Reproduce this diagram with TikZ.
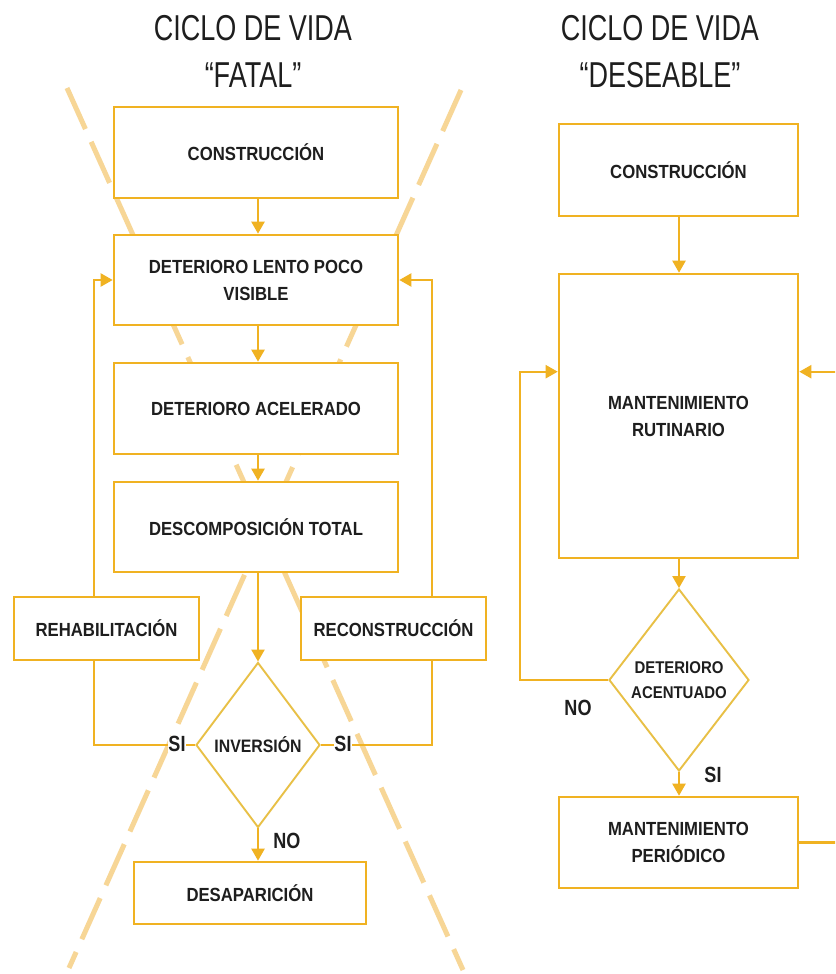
\documentclass[tikz,border=0pt]{standalone}
\usepackage{fontspec}
\setmainfont{Liberation Sans}
\newfontfamily\titlefont[FakeStretch=0.75]{Liberation Sans}
\newfontfamily\bxfont[FakeStretch=0.88]{Liberation Sans}
\newfontfamily\lblfont[FakeStretch=0.82]{Liberation Sans}
\usetikzlibrary{shapes.geometric,arrows.meta,calc}
\definecolor{boxcol}{RGB}{240,178,34}
\definecolor{dcol}{RGB}{232,192,70}
\definecolor{xcol}{RGB}{247,214,150}
\definecolor{txt}{RGB}{30,30,30}
\begin{document}
\begin{tikzpicture}[x=1pt,y=-1pt,
 box/.style={draw=boxcol, line width=2.6pt, fill=white, inner sep=0pt, align=center, font=\bxfont\bfseries\fontsize{19}{27}\selectfont, text=txt},
 dia/.style={diamond, draw=dcol, line width=1.9pt, fill=white, inner sep=0pt, aspect=0.75, align=center, text=txt},
 arr/.style={draw=boxcol, line width=2.2pt, -{Triangle[length=12pt,width=13pt]}},
 ln/.style={draw=boxcol, line width=2.2pt},
 lbl/.style={font=\lblfont\bfseries\fontsize{22}{24}\selectfont, text=txt, inner sep=0.5pt},
 ttl/.style={font=\titlefont\fontsize{36}{40}\selectfont, text=txt, anchor=base},
 xdash/.style={draw=xcol, line width=5pt, dash pattern=on 45pt off 14pt}
]
\useasboundingbox (0,0) rectangle (835,974);
\clip (0,0) rectangle (835,974);
\fill[white] (0,0) rectangle (835,974);

% titles
\node[ttl] (t1a) at (253,41) {CICLO DE VIDA};
\node[ttl] (t1b) at (253,87) {“FATAL”};
\node[ttl] (t2a) at (660,41) {CICLO DE VIDA};
\node[ttl] (t2b) at (660,87) {“DESEABLE”};

% crossing dashed lines
\coordinate (xa1) at (67,88);
\coordinate (xa2) at (463,970);
\coordinate (xb1) at (461,90);
\coordinate (xb2) at (69,968);
\draw[xdash] (xa1) -- (xa2);
\draw[xdash] (xb1) -- (xb2);

% left column
\node[box, minimum width=284, minimum height=91] (c1) at (256,152.5) {CONSTRUCCIÓN};
\node[box, minimum width=284, minimum height=90] (d1) at (256,280) {DETERIORO LENTO POCO\\VISIBLE};
\node[box, minimum width=284, minimum height=91] (d2) at (256,408.5) {DETERIORO ACELERADO};
\node[box, minimum width=284, minimum height=90] (d3) at (256,527) {DESCOMPOSICIÓN TOTAL};
\node[box, minimum width=185, minimum height=63] (rh) at (106.5,628.5) {REHABILITACIÓN};
\node[box, minimum width=185, minimum height=63] (rc) at (393.5,628.5) {RECONSTRUCCIÓN};
\node[dia, minimum width=124, minimum height=165, font=\bxfont\bfseries\fontsize{18}{22}\selectfont] (inv) at (258,745) {INVERSIÓN};
\node[box, minimum width=232, minimum height=62] (ds) at (250,893) {DESAPARICIÓN};

\coordinate (lx) at (94,0);
\coordinate (rxl) at (432,0);

\draw[arr] (c1.south -| inv.north) -- (d1.north -| inv.north);
\draw[arr] (d1.south -| inv.north) -- (d2.north -| inv.north);
\draw[arr] (d2.south -| inv.north) -- (d3.north -| inv.north);
\draw[arr] (d3.south -| inv.north) -- (inv.north);
\draw[arr] (inv.south) -- (ds.north -| inv.south);

\draw[arr] (lx |- rh.north) -- (lx |- d1.west) -- (d1.west);
\draw[ln] (inv.west) -- (lx |- inv.west) -- (lx |- rh.south);
\draw[arr] (rxl |- rc.north) -- (rxl |- d1.east) -- (d1.east);
\draw[ln] (inv.east) -- (rxl |- inv.east) -- (rxl |- rc.south);

\node[lbl, fill=white] (si1) at (177,744) {SI};
\node[lbl, fill=white] (si2) at (343,744) {SI};
\node[lbl] (no1) at (287,841) {NO};

% right column
\node[box, minimum width=239, minimum height=92] (rc1) at (678.5,170) {CONSTRUCCIÓN};
\node[box, minimum width=239, minimum height=284] (rm) at (678.5,416) {MANTENIMIENTO\\RUTINARIO};
\node[dia, minimum width=140, minimum height=182, font=\bxfont\bfseries\fontsize{17}{25}\selectfont] (rd) at (679,680) {DETERIORO\\ACENTUADO};
\node[box, minimum width=239, minimum height=91] (rp) at (678.5,842.5) {MANTENIMIENTO\\PERIÓDICO};

\coordinate (lx2) at (520,0);
\coordinate (rx2) at (842,0);
\coordinate (ain) at ($(rm.north)+(0,99)$);

\draw[arr] (rc1.south -| rd.north) -- (rm.north -| rd.north);
\draw[arr] (rm.south -| rd.north) -- (rd.north);
\draw[arr] (rd.south) -- (rp.north -| rd.south);
\draw[arr] (rd.west) -- (lx2 |- rd.west) -- (lx2 |- ain) -- (rm.west |- ain);
\draw[arr] (rp.east) -- (rx2 |- rp.east) -- (rx2 |- ain) -- (rm.east |- ain);

\node[lbl] (no2) at (578,708) {NO};
\node[lbl] (si3) at (713,775) {SI};
\end{tikzpicture}
\end{document}
